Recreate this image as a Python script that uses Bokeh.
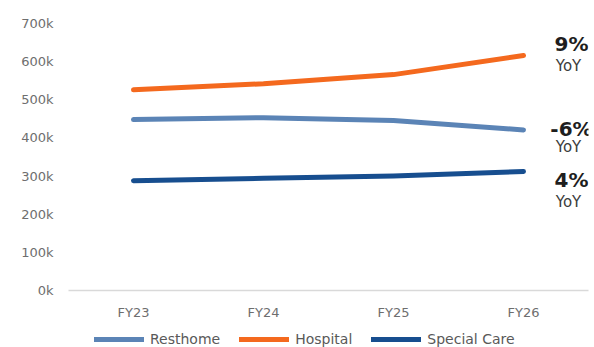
from bokeh.plotting import figure
from bokeh.layouts import column
from bokeh.models import FactorRange, Range1d, Legend, LegendItem, PrintfTickFormatter, ColumnDataSource
from bokeh.core.properties import value
from bokeh.embed import file_html
from bokeh.resources import INLINE

# Patient days by care type, in thousands
years = ["FY23", "FY24", "FY25", "FY26"]
resthome = [448, 453, 446, 421]
hospital = [526, 542, 566, 616]
special_care = [288, 294, 300, 312]

series_names = ["Resthome", "Hospital", "Special Care"]
series_colors = ["#5b84b6", "#f4691e", "#174e8f"]
yoy_labels = ["-6%", "9%", "4%"]
series_values = [resthome, hospital, special_care]

FONT = "DejaVu Sans"

p = figure(
    frame_width=520, frame_height=267,
    x_range=FactorRange(*years),
    y_range=Range1d(0, 700),
    output_backend="svg", toolbar_location=None,
    min_border_left=68, min_border_right=6, min_border_top=23, min_border_bottom=0,
)
p.outline_line_color = None
p.background_fill_color = "white"
p.border_fill_color = "white"
p.xgrid.grid_line_color = None
p.ygrid.grid_line_color = None

p.yaxis.ticker = [0, 100, 200, 300, 400, 500, 600, 700]
p.yaxis.formatter = PrintfTickFormatter(format="%dk")
p.yaxis.axis_line_color = None
p.yaxis.major_tick_line_color = None
p.yaxis.minor_tick_line_color = None
p.yaxis.major_tick_out = 0
p.yaxis.major_label_standoff = 15
p.yaxis.major_label_text_font = FONT
p.yaxis.major_label_text_font_size = "13px"
p.yaxis.major_label_text_color = "#6e6e6e"

p.xaxis.axis_line_color = "#d9d9d9"
p.xaxis.axis_line_width = 1.5
p.xaxis.major_tick_line_color = None
p.xaxis.minor_tick_line_color = None
p.xaxis.major_tick_out = 0
p.xaxis.major_label_standoff = 14
p.xaxis.major_label_text_font = FONT
p.xaxis.major_label_text_font_size = "13px"
p.xaxis.major_label_text_color = "#6e6e6e"

for name, vals, color in zip(series_names, series_values, series_colors):
    p.line(years, vals, line_color=color, line_width=5, line_cap="round", line_join="round")

# Year-on-year change labels beside each line's last point
label_offsets = {"Resthome": (-1, 17), "Hospital": (-12, 10), "Special Care": (9, 31)}
for name, vals, yoy in zip(series_names, series_values, yoy_labels):
    big_dy, small_dy = label_offsets[name]
    src = ColumnDataSource(dict(x=[years[-1]], y=[vals[-1]], t=[yoy], s=["YoY"]))
    p.text(x="x", y="y", text="t", source=src, x_offset=48, y_offset=big_dy,
           text_align="center", text_baseline="middle", text_font=value(FONT),
           text_font_style="bold", text_font_size="20px", text_color="#1e1e1e")
    p.text(x="x", y="y", text="s", source=src, x_offset=45, y_offset=small_dy,
           text_align="center", text_baseline="middle", text_font=value(FONT),
           text_font_size="15px", text_color="#3c3c3c")

# Legend strip beneath the chart; its lines carry the same series but sit
# outside the strip's visible y range, so only the legend entries show.
leg = figure(
    width=594, height=25, x_range=FactorRange(*years), y_range=Range1d(-2, -1),
    output_backend="svg", toolbar_location=None,
    x_axis_location=None, y_axis_location=None,
    min_border=0,
)
leg.outline_line_color = None
leg.xgrid.grid_line_color = None
leg.ygrid.grid_line_color = None
items = []
for name, vals, color in zip(series_names, series_values, series_colors):
    r = leg.line(years, vals, line_color=color, line_width=5, line_cap="round")
    items.append(LegendItem(label=name, renderers=[r]))
legend = Legend(items=items, orientation="horizontal", location=(26, 0),
                glyph_width=50, glyph_height=14, label_height=16, label_standoff=6,
                spacing=19, padding=0, margin=0, border_line_color=None,
                background_fill_alpha=0,
                label_text_font=FONT, label_text_font_size="14px",
                label_text_color="#595959")
leg.add_layout(legend)

layout = column(p, leg, spacing=0)
open("out.html", "w").write(file_html(layout, INLINE))
